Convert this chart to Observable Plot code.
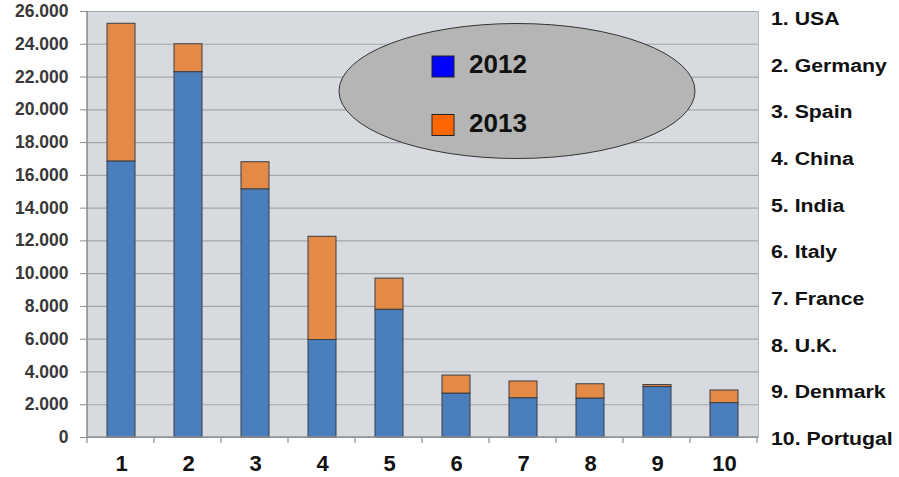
<!DOCTYPE html>
<html>
<head>
<meta charset="utf-8">
<script src="https://cdn.jsdelivr.net/npm/d3@7"></script>
<script src="https://cdn.jsdelivr.net/npm/@observablehq/plot@0.6"></script>
<style>
  html, body { margin: 0; padding: 0; background: #ffffff; }
  #chart { position: relative; width: 899px; height: 477px; }
  svg { font-family: "Liberation Sans", Arial, sans-serif; }
</style>
</head>
<body>
<div id="chart"></div>
<script>
// ---- data ----
const ranks = [1, 2, 3, 4, 5, 6, 7, 8, 9, 10];
const countries = ["USA", "Germany", "Spain", "China", "India", "Italy", "France", "U.K.", "Denmark", "Portugal"];
const values2012 = [16850, 22300, 15150, 5950, 7800, 2680, 2400, 2380, 3080, 2100];
const values2013 = [25250, 24000, 16800, 12250, 9700, 3780, 3420, 3250, 3200, 2870];
const yTicks = [0, 2000, 4000, 6000, 8000, 10000, 12000, 14000, 16000, 18000, 20000, 22000, 24000, 26000];
const legendYears = ["2012", "2013"];
const legendColors = ["#0000ff", "#ff6600"];

const colBlue = "#4a7ebd";
const colOrange = "#e38a46";

const rows = [];
ranks.forEach((r, i) => {
  rows.push({rank: r, year: "2012", y1: 0, y2: values2012[i]});
  rows.push({rank: r, year: "2013", y1: values2012[i], y2: values2013[i]});
});

const loc = d3.formatLocale({decimal: ",", thousands: ".", grouping: [3], currency: ["", ""]});
const fmt = loc.format(",d");

const W = 899, H = 477;
const mL = 87, mR = 141, mT = 11, mB = 40;
const padIn = 0.585;

const plot = Plot.plot({
  width: W,
  height: H,
  marginLeft: mL,
  marginRight: mR,
  marginTop: mT,
  marginBottom: mB,
  style: {fontFamily: "'Liberation Sans', Arial, sans-serif", background: "#ffffff", overflow: "visible"},
  x: {domain: ranks, paddingInner: padIn, paddingOuter: padIn / 2, label: null},
  y: {domain: [0, 26000], label: null},
  marks: [
    Plot.frame({fill: "#d7dbdf", stroke: "#b8bcc0"}),
    Plot.gridY(yTicks, {stroke: "#a3a7ab", strokeOpacity: 1, strokeWidth: 1.2}),
    Plot.barY(rows, {
      x: "rank", y1: "y1", y2: "y2",
      fill: d => d.year === "2012" ? colBlue : colOrange,
      stroke: "#3a3d42", strokeWidth: 1
    }),
    Plot.axisY({
      ticks: yTicks, tickFormat: fmt, tickSize: 7, tickPadding: 12,
      fontSize: 17.5, fontWeight: "bold", fill: "#383838", stroke: "#8a8e92", label: null
    }),
    Plot.axisX({
      tickSize: 0, tickPadding: 18, fontSize: 22, fontWeight: "bold", fill: "#111", label: null
    })
  ]
});

const svg = d3.select(plot);
const xs = plot.scale("x");
const plotLeft = mL, plotRight = W - mR, plotBottom = H - mB, plotTop = mT;

// left border line and bottom axis
svg.append("line").attr("x1", plotLeft).attr("x2", plotLeft).attr("y1", plotTop).attr("y2", plotBottom)
  .attr("stroke", "#8c9094").attr("stroke-width", 1.5);
svg.append("line").attr("x1", plotLeft).attr("x2", plotRight).attr("y1", plotBottom).attr("y2", plotBottom)
  .attr("stroke", "#8c9094").attr("stroke-width", 1.5);

// x ticks at band boundaries
const step = xs.step;
for (let i = 0; i <= ranks.length; i++) {
  const bx = plotLeft + i * step;
  svg.append("line").attr("x1", bx).attr("x2", bx).attr("y1", plotBottom).attr("y2", plotBottom + 6)
    .attr("stroke", "#8c9094").attr("stroke-width", 1.2);
}

// legend ellipse
const lg = svg.append("g").attr("text-anchor", "start");
lg.append("ellipse").attr("cx", 517).attr("cy", 91).attr("rx", 178).attr("ry", 67.5)
  .attr("fill", "#b5b5b5").attr("stroke", "#333").attr("stroke-width", 1);
legendYears.forEach((yr, i) => {
  const top = 56 + i * 58.5;
  lg.append("rect").attr("x", 432).attr("y", top).attr("width", 22).attr("height", 21)
    .attr("fill", legendColors[i]).attr("stroke", "#222").attr("stroke-width", 1);
  lg.append("text").attr("x", 469).attr("y", top + 17).text(yr)
    .attr("text-anchor", "start")
    .attr("font-size", 26).attr("font-weight", "bold").attr("fill", "#111");
});

// country list on the right
const cg = svg.append("g").attr("text-anchor", "start");
countries.forEach((c, i) => {
  cg.append("text")
    .attr("transform", `translate(771,${25 + i * 46.67}) scale(1.12,1)`)
    .attr("text-anchor", "start")
    .text(`${ranks[i]}. ${c}`)
    .attr("font-size", 19).attr("font-weight", "bold").attr("fill", "#111");
});

document.getElementById("chart").appendChild(plot);
</script>
</body>
</html>
